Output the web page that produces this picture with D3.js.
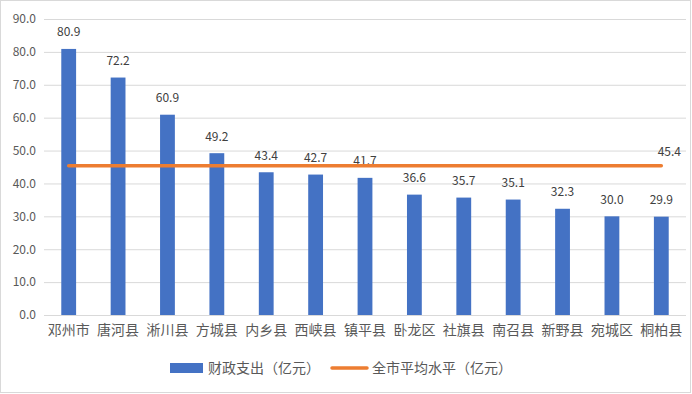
<!DOCTYPE html>
<html>
<head>
<meta charset="utf-8">
<script src="https://cdn.jsdelivr.net/npm/d3@7"></script>
<style>
  body { margin: 0; background: #fff; }
  text { font-family: "Microsoft YaHei", "Noto Sans CJK SC", sans-serif; }
</style>
</head>
<body>
<div id="chart"></div>
<script>
'use strict';

var counties = ['邓州市', '唐河县', '淅川县', '方城县', '内乡县', '西峡县', '镇平县', '卧龙区', '社旗县', '南召县', '新野县', '宛城区', '桐柏县'];
var spending = [80.9, 72.2, 60.9, 49.2, 43.4, 42.7, 41.7, 36.6, 35.7, 35.1, 32.3, 30.0, 29.9];
var cityAverage = 45.4;
var yTicks = [0, 10, 20, 30, 40, 50, 60, 70, 80, 90];
var seriesNames = ['财政支出（亿元）', '全市平均水平（亿元）'];

var W = 692, H = 394;
var plot = { left: 44, right: 686, top: 19, bottom: 315 };
var BLUE = '#4472c4', ORANGE = '#ed7d31';

var svg = d3.select('#chart').append('svg')
  .attr('width', W)
  .attr('height', H);

// chart border
svg.append('rect')
  .attr('x', 0.5).attr('y', 0.5)
  .attr('width', W - 2).attr('height', H - 2)
  .attr('fill', '#fff')
  .attr('stroke', '#d9d9d9');

var x = d3.scaleBand()
  .domain(counties)
  .range([plot.left, plot.right])
  .paddingInner(0.7)
  .paddingOuter(0.35);

var y = d3.scaleLinear()
  .domain([0, 90])
  .range([plot.bottom, plot.top]);

// gridlines
svg.append('g')
  .selectAll('line')
  .data(yTicks.slice(1))
  .enter()
  .append('line')
  .attr('x1', plot.left).attr('x2', plot.right)
  .attr('y1', function(d) { return y(d) + 0.5; })
  .attr('y2', function(d) { return y(d) + 0.5; })
  .attr('stroke', '#d9d9d9');

// y axis labels
var yAxis = svg.append('g')
  .attr('transform', 'translate(' + (plot.left - 8) + ',0)')
  .call(d3.axisLeft(y).tickValues(yTicks).tickFormat(d3.format('.1f')).tickSize(0).tickPadding(0));
yAxis.select('.domain').remove();
yAxis.selectAll('text')
  .attr('fill', '#595959')
  .style('font-size', '12px');

// x axis
var xAxis = svg.append('g')
  .attr('transform', 'translate(0,' + plot.bottom + ')')
  .call(d3.axisBottom(x).tickSize(0).tickPadding(10));
xAxis.select('.domain').attr('stroke', '#d9d9d9').attr('d', 'M' + plot.left + ',0.5H' + plot.right);
xAxis.selectAll('text')
  .attr('fill', '#595959')
  .style('font-size', '14px');

// bars
svg.append('g')
  .selectAll('rect')
  .data(spending)
  .enter()
  .append('rect')
  .attr('x', function(d, i) { return x(counties[i]); })
  .attr('width', x.bandwidth())
  .attr('y', function(d) { return y(d); })
  .attr('height', function(d) { return y(0) - y(d); })
  .attr('fill', BLUE);

// bar value labels
svg.append('g')
  .selectAll('text')
  .data(spending)
  .enter()
  .append('text')
  .attr('x', function(d, i) { return x(counties[i]) + x.bandwidth() / 2; })
  .attr('y', function(d) { return y(d) - 12.5; })
  .attr('text-anchor', 'middle')
  .attr('fill', '#404040')
  .style('font-size', '12px')
  .text(function(d) { return d.toFixed(1); });

// average line, from first to last category centre
var cx = function(c) { return x(c) + x.bandwidth() / 2; };
var avgData = counties.map(function(c) { return [cx(c), y(cityAverage)]; });
svg.append('path')
  .attr('d', d3.line()(avgData))
  .attr('fill', 'none')
  .attr('stroke', ORANGE)
  .attr('stroke-width', 3.5)
  .attr('stroke-linecap', 'round');

var last = avgData[avgData.length - 1];
svg.append('text')
  .attr('x', last[0] + 8)
  .attr('y', last[1] - 10)
  .attr('text-anchor', 'middle')
  .attr('fill', '#404040')
  .style('font-size', '12px')
  .text(cityAverage.toFixed(1));

// legend
var legend = svg.append('g');
legend.append('rect')
  .attr('x', 170).attr('y', 363)
  .attr('width', 33).attr('height', 10)
  .attr('fill', BLUE);
legend.append('text')
  .attr('x', 208).attr('y', 373)
  .attr('fill', '#595959')
  .style('font-size', '14px')
  .text(seriesNames[0]);
legend.append('line')
  .attr('x1', 332).attr('x2', 367)
  .attr('y1', 368).attr('y2', 368)
  .attr('stroke', ORANGE)
  .attr('stroke-width', 3.5)
  .attr('stroke-linecap', 'round');
legend.append('text')
  .attr('x', 372).attr('y', 373)
  .attr('fill', '#595959')
  .style('font-size', '14px')
  .text(seriesNames[1]);
</script>
</body>
</html>
